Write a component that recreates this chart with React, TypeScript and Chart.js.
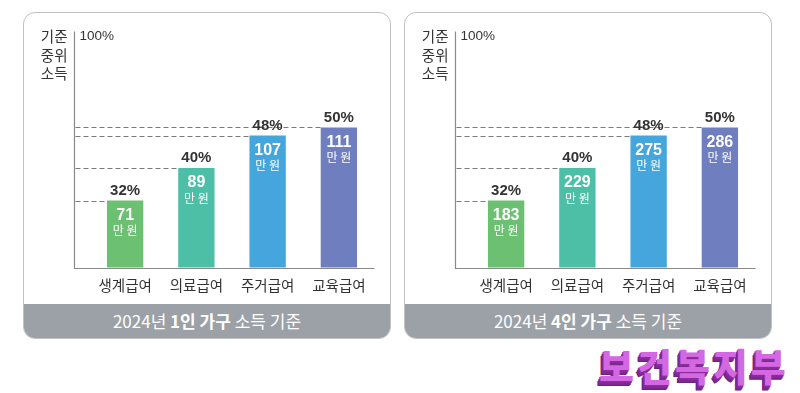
import React, { useEffect, useRef } from 'react';
import { Chart, registerables } from 'chart.js';

Chart.register(...registerables);

const categories = ['생계급여', '의료급여', '주거급여', '교육급여'];
const medianIncomeShare = [32, 40, 48, 50];
const amountOnePerson = [71, 89, 107, 111];
const amountFourPerson = [183, 229, 275, 286];
const barColors = ['#6cc071', '#4ebfa7', '#45a5dd', '#6e7ebf'];
const axisTopLabel = '100%';
const axisTitle = ['기준', '중위', '소득'];
const unitLabel = '만 원';
const footerOne = ['2024년 ', '1인 가구', ' 소득 기준'];
const footerFour = ['2024년 ', '4인 가구', ' 소득 기준'];
const logoText = '보건복지부';

const NUM_FONT = "'Liberation Sans', Arial, 'Noto Sans CJK KR', sans-serif";
const KR_FONT = "'Noto Sans CJK KR', 'Noto Sans', sans-serif";

function makeOverlay(amounts: number[]) {
  return {
    id: 'overlay',
    afterDatasetsDraw(chart: any) {
      const { ctx, chartArea } = chart;
      const axisX = Math.round(chartArea.left - 16) + 0.5;
      const meta = chart.getDatasetMeta(0);
      ctx.save();
      // dashed guide lines
      ctx.strokeStyle = '#7a7a7a';
      ctx.lineWidth = 1;
      ctx.setLineDash([5, 3]);
      meta.data.forEach((bar: any) => {
        const p = bar.getProps(['x', 'y', 'width'], true);
        const y = Math.round(p.y) + 0.5;
        ctx.beginPath();
        ctx.moveTo(axisX + 1, y);
        ctx.lineTo(p.x - p.width / 2, y);
        ctx.stroke();
      });
      ctx.setLineDash([]);
      // axes
      ctx.strokeStyle = '#8a8a8a';
      ctx.lineWidth = 1.2;
      ctx.beginPath();
      ctx.moveTo(axisX, chartArea.top);
      ctx.lineTo(axisX, Math.round(chartArea.bottom) + 0.5);
      ctx.lineTo(chartArea.right, Math.round(chartArea.bottom) + 0.5);
      ctx.stroke();
      // 100% label
      ctx.fillStyle = '#333';
      ctx.textBaseline = 'middle';
      ctx.textAlign = 'left';
      ctx.font = `13.5px ${NUM_FONT}`;
      ctx.fillText(axisTopLabel, axisX + 5, chartArea.top + 5);
      // axis title
      ctx.textAlign = 'right';
      ctx.font = `14.5px ${KR_FONT}`;
      axisTitle.forEach((t, i) => {
        ctx.fillText(t, axisX - 7, chartArea.top + 5 + i * 18.5);
      });
      // bar labels
      ctx.textAlign = 'center';
      meta.data.forEach((bar: any, i: number) => {
        const p = bar.getProps(['x', 'y'], true);
        ctx.fillStyle = '#333';
        ctx.font = `bold 15px ${NUM_FONT}`;
        ctx.fillText(`${medianIncomeShare[i]}%`, p.x, p.y - 10);
        ctx.fillStyle = '#ffffff';
        ctx.font = `bold 16px ${NUM_FONT}`;
        ctx.fillText(String(amounts[i]), p.x, p.y + 15);
        ctx.font = `12px ${KR_FONT}`;
        ctx.fillText(unitLabel, p.x, p.y + 30);
      });
      ctx.restore();
    },
  };
}

function Panel({ left, amounts, footer }: { left: number; amounts: number[]; footer: string[] }) {
  const ref = useRef<HTMLCanvasElement | null>(null);
  useEffect(() => {
    if (!ref.current) return;
    const chart = new Chart(ref.current, {
      type: 'bar',
      data: {
        labels: categories,
        datasets: [
          {
            data: medianIncomeShare,
            backgroundColor: barColors,
            borderWidth: 0,
            barPercentage: 0.51,
            categoryPercentage: 1,
          },
        ],
      },
      options: {
        animation: false,
        responsive: false,
        maintainAspectRatio: false,
        layout: { padding: { left: 65.5, right: 14.5, top: 18.5, bottom: 0 } },
        plugins: { legend: { display: false }, tooltip: { enabled: false } },
        scales: {
          x: {
            grid: { display: false, drawTicks: false },
            border: { display: false },
            ticks: { color: '#333', font: { family: KR_FONT, size: 14.5 }, padding: 9 },
          },
          y: { display: false, min: 15.5, max: 73.6 },
        },
      },
      plugins: [makeOverlay(amounts)],
    } as any);
    return () => chart.destroy();
  }, []);
  return (
    <div
      style={{
        position: 'absolute',
        left,
        top: 12,
        width: 368,
        height: 327,
        boxSizing: 'border-box',
        border: '1.5px solid #c2c2c2',
        borderRadius: 12,
        overflow: 'hidden',
        background: '#fff',
      }}
    >
      <canvas ref={ref} width={365} height={290} style={{ position: 'absolute', left: 0, top: 0, width: 365, height: 290 }} />
      <div
        style={{
          position: 'absolute',
          left: 0,
          right: 0,
          bottom: 0,
          height: 34,
          background: '#9ca1a7',
          color: '#fff',
          fontFamily: KR_FONT,
          fontSize: 17,
          lineHeight: '34px',
          textAlign: 'center',
          whiteSpace: 'pre',
        }}
      >
        {footer[0]}
        <b>{footer[1]}</b>
        {footer[2]}
      </div>
    </div>
  );
}

export default function App() {
  return (
    <div style={{ position: 'absolute', left: 0, top: 0, width: 800, height: 393, background: '#fff', overflow: 'hidden' }}>
      <Panel left={23} amounts={amountOnePerson} footer={footerOne} />
      <Panel left={404} amounts={amountFourPerson} footer={footerFour} />
      <div
        style={{
          position: 'absolute',
          left: 599,
          top: 341,
          fontFamily: KR_FONT,
          fontWeight: 900,
          fontSize: 38,
          letterSpacing: 3,
          lineHeight: '48px',
          color: '#d468e2',
          whiteSpace: 'pre',
          textShadow:
            '-1px 1px 0 #8a2d9b, -1px 2px 0 #8a2d9b, -2px 3px 0 #7d2790, -2px 4px 0 #7d2790, -3px 5px 0 #6e2180',
        }}
      >
        {logoText}
      </div>
    </div>
  );
}
